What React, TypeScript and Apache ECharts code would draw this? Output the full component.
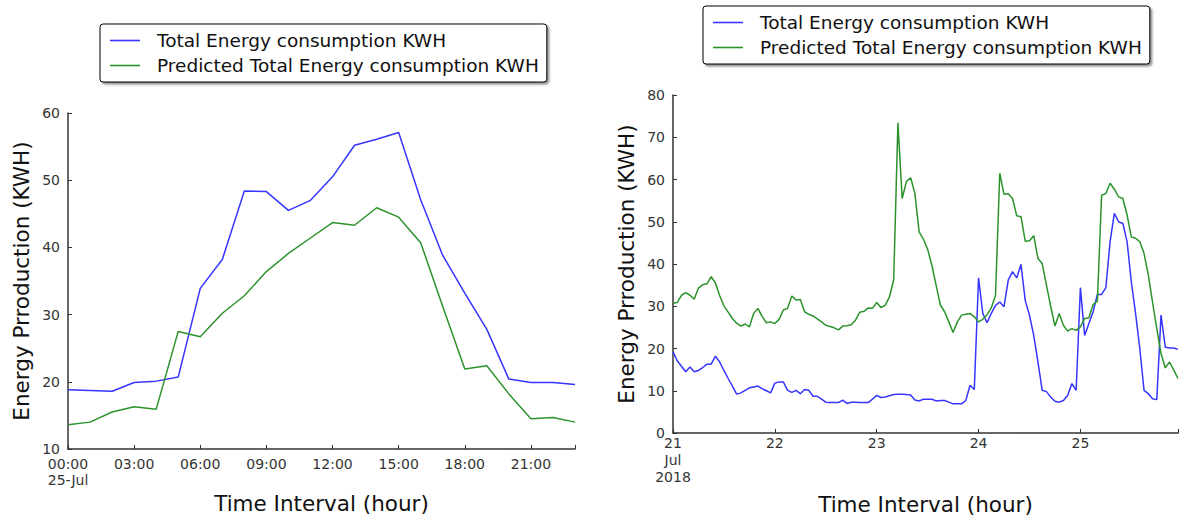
import React, { useEffect, useRef } from "react";
import * as echarts from "echarts";

// Left chart: hourly values on 25-Jul
const leftHours = [0, 1, 2, 3, 4, 5, 6, 7, 8, 9, 10, 11, 12, 13, 14, 15, 16, 17, 18, 19, 20, 21, 22, 23];
const leftActual = [18.8, 18.7, 18.6, 19.9, 20.1, 20.7, 33.9, 38.2, 48.4, 48.3, 45.5, 47.0, 50.5, 55.2, 56.1, 57.1, 47.1, 38.8, 33.2, 27.8, 20.4, 19.9, 19.9, 19.6];
const leftPredicted = [13.6, 14.0, 15.5, 16.3, 15.9, 27.5, 26.7, 30.2, 32.8, 36.4, 39.1, 41.4, 43.7, 43.3, 45.9, 44.5, 40.7, 31.2, 21.9, 22.4, 18.2, 14.5, 14.7, 14.0];

// Right chart: hourly values from 21 Jul 2018 00:00 to 25 Jul 23:00
const rightActual = [
  19.2, 17.1, 15.8, 14.5, 15.6, 14.5, 14.8, 15.5, 16.3, 16.3, 18.2, 16.8,
  14.8, 12.9, 11.1, 9.2, 9.5, 10.1, 10.7, 10.9, 11.1, 10.5, 10.0, 9.5,
  11.8, 12.1, 12.1, 10.1, 9.6, 10.1, 9.3, 10.3, 10.1, 8.7, 8.7, 8.0,
  7.3, 7.2, 7.2, 7.2, 7.8, 7.0, 7.3, 7.3, 7.2, 7.2, 7.2, 8.0,
  8.9, 8.4, 8.5, 8.8, 9.1, 9.2, 9.2, 9.1, 9.0, 7.8, 7.6, 8.0,
  8.0, 8.0, 7.6, 7.7, 7.7, 7.3, 6.9, 6.9, 6.9, 7.7, 11.3, 10.3,
  36.7, 28.3, 26.1, 28.3, 30.2, 31.0, 29.9, 36.2, 38.2, 36.7, 39.9, 31.4,
  27.9, 23.1, 16.8, 10.1, 9.8, 8.5, 7.5, 7.3, 7.7, 8.9, 11.7, 10.1,
  34.4, 23.1, 25.9, 28.7, 32.8, 32.8, 34.4, 45.3, 52.0, 50.0, 49.6, 45.3,
  35.8, 28.3, 20.0, 10.1, 9.3, 8.1, 7.9, 27.9, 20.3, 20.1, 20.1, 19.8,
];
const rightPredicted = [
  30.7, 30.9, 32.6, 33.2, 32.6, 31.7, 34.3, 35.1, 35.3, 37.0, 35.5, 32.5,
  30.1, 28.6, 27.1, 26.0, 25.3, 25.8, 25.1, 28.3, 29.5, 27.6, 26.1, 26.3,
  25.9, 26.9, 29.1, 29.5, 32.4, 31.5, 31.6, 28.7, 28.1, 27.7, 27.0, 26.3,
  25.5, 25.2, 24.9, 24.4, 25.3, 25.4, 25.6, 26.7, 28.6, 28.8, 29.6, 29.5,
  30.9, 29.7, 30.2, 32.2, 36.2, 73.4, 55.5, 59.5, 60.4, 56.7, 47.6, 45.9,
  43.5, 39.7, 35.0, 30.3, 28.7, 26.3, 23.8, 26.3, 27.9, 28.1, 28.3, 27.5,
  26.3, 26.9, 28.0, 29.6, 32.6, 61.5, 56.5, 56.6, 55.5, 51.4, 51.2, 45.4,
  45.5, 46.7, 41.3, 40.1, 35.0, 30.0, 25.3, 28.3, 25.5, 24.1, 24.7, 24.3,
  25.1, 27.1, 27.3, 30.4, 31.2, 56.3, 56.7, 59.1, 57.7, 55.9, 55.5, 51.6,
  46.4, 46.1, 45.3, 42.5, 37.4, 31.0, 24.7, 18.8, 15.4, 16.8, 14.9, 12.9,
];

const leftTickLabels = ["00:00", "03:00", "06:00", "09:00", "12:00", "15:00", "18:00", "21:00"];
const rightTickLabels = ["21", "22", "23", "24", "25"];
const seriesNames = ["Total Energy consumption KWH", "Predicted Total Energy consumption KWH"];
const yTitle = "Energy Prroduction (KWH)";
const xTitle = "Time Interval (hour)";

const BLUE = "#3535ff";
const GREEN = "#2c932c";
const FONT = "DejaVu Sans";
const AXIS = "#333";

export default function App() {
  const ref = useRef<HTMLDivElement>(null);
  useEffect(() => {
    if (!ref.current) return;
    const chart = echarts.init(ref.current, undefined, { renderer: "svg" });

    const axisCommon = {
      axisLine: { show: true, lineStyle: { color: AXIS, width: 1.5 } },
      axisTick: { show: true, inside: true, length: 4, lineStyle: { color: AXIS } },
      splitLine: { show: false },
      axisLabel: { color: "#333", fontSize: 14, fontFamily: FONT },
      nameTextStyle: { color: "#111", fontSize: 21.5, lineHeight: 22, fontFamily: FONT },
    };

    const legendCommon = {
      orient: "vertical" as const,
      data: seriesNames,
      icon: "rect",
      itemWidth: 30,
      itemHeight: 1.6,
      itemGap: 6,
      backgroundColor: "#fff",
      borderColor: "#000",
      borderWidth: 1,
      borderRadius: 3,
      shadowColor: "rgba(0,0,0,0.45)",
      shadowBlur: 2,
      shadowOffsetX: 2,
      shadowOffsetY: 2,
      padding: [7, 8, 7, 10],
      textStyle: { fontSize: 18.5, color: "#111", fontFamily: FONT, padding: [0, 0, 0, 12] },
    };

    const option = {
      animation: false,
      textStyle: { fontFamily: FONT },
      legend: [
        { ...legendCommon, left: 100, top: 24 },
        { ...legendCommon, left: 703, top: 6 },
      ],
      grid: [
        { left: 68, top: 113, width: 507, height: 336, containLabel: false, outerBoundsMode: "none" },
        { left: 673, top: 95, width: 505, height: 338, containLabel: false, outerBoundsMode: "none" },
      ],
      xAxis: [
        {
          ...axisCommon,
          type: "value",
          gridIndex: 0,
          min: 0,
          max: 23,
          interval: 3,
          name: xTitle,
          nameLocation: "middle",
          nameGap: 43,
          axisLabel: {
            ...axisCommon.axisLabel,
            margin: 7,
            lineHeight: 16,
            formatter: (v: number) => {
              if (v % 3 !== 0 || v > 21) return "";
              const t = leftTickLabels[v / 3];
              return v === 0 ? t + "\n25-Jul" : t;
            },
          },
        },
        {
          ...axisCommon,
          type: "value",
          gridIndex: 1,
          min: 0,
          max: 119,
          interval: 24,
          name: xTitle,
          nameLocation: "middle",
          nameGap: 60,
          axisLabel: {
            ...axisCommon.axisLabel,
            margin: 1,
            lineHeight: 17,
            formatter: (v: number) => {
              if (v % 24 !== 0) return "";
              const t = rightTickLabels[v / 24];
              return v === 0 ? t + "\nJul\n2018" : t;
            },
          },
        },
      ],
      yAxis: [
        {
          ...axisCommon,
          type: "value",
          gridIndex: 0,
          min: 10,
          max: 60,
          interval: 10,
          name: yTitle,
          nameLocation: "middle",
          nameGap: 36,
          axisLabel: { ...axisCommon.axisLabel, margin: 8, lineHeight: 11 },
        },
        {
          ...axisCommon,
          type: "value",
          gridIndex: 1,
          min: 0,
          max: 80,
          interval: 10,
          name: yTitle,
          nameLocation: "middle",
          nameGap: 36,
          axisLabel: { ...axisCommon.axisLabel, margin: 8, lineHeight: 11 },
        },
      ],
      series: [
        {
          name: seriesNames[0],
          type: "line",
          xAxisIndex: 0,
          yAxisIndex: 0,
          symbol: "none",
          lineStyle: { color: BLUE, width: 1.5 },
          itemStyle: { color: BLUE },
          data: leftHours.map((h, i) => [h, leftActual[i]]),
        },
        {
          name: seriesNames[1],
          type: "line",
          xAxisIndex: 0,
          yAxisIndex: 0,
          symbol: "none",
          lineStyle: { color: GREEN, width: 1.5 },
          itemStyle: { color: GREEN },
          data: leftHours.map((h, i) => [h, leftPredicted[i]]),
        },
        {
          name: seriesNames[0],
          type: "line",
          xAxisIndex: 1,
          yAxisIndex: 1,
          symbol: "none",
          lineStyle: { color: BLUE, width: 1.5 },
          itemStyle: { color: BLUE },
          data: rightActual.map((v, i) => [i, v]),
        },
        {
          name: seriesNames[1],
          type: "line",
          xAxisIndex: 1,
          yAxisIndex: 1,
          symbol: "none",
          lineStyle: { color: GREEN, width: 1.5 },
          itemStyle: { color: GREEN },
          data: rightPredicted.map((v, i) => [i, v]),
        },
      ],
    };

    chart.setOption(option as any);
    return () => chart.dispose();
  }, []);

  return (
    <div
      ref={ref}
      style={{ position: "fixed", left: 0, top: 0, width: 1190, height: 517, background: "#fff" }}
    />
  );
}
